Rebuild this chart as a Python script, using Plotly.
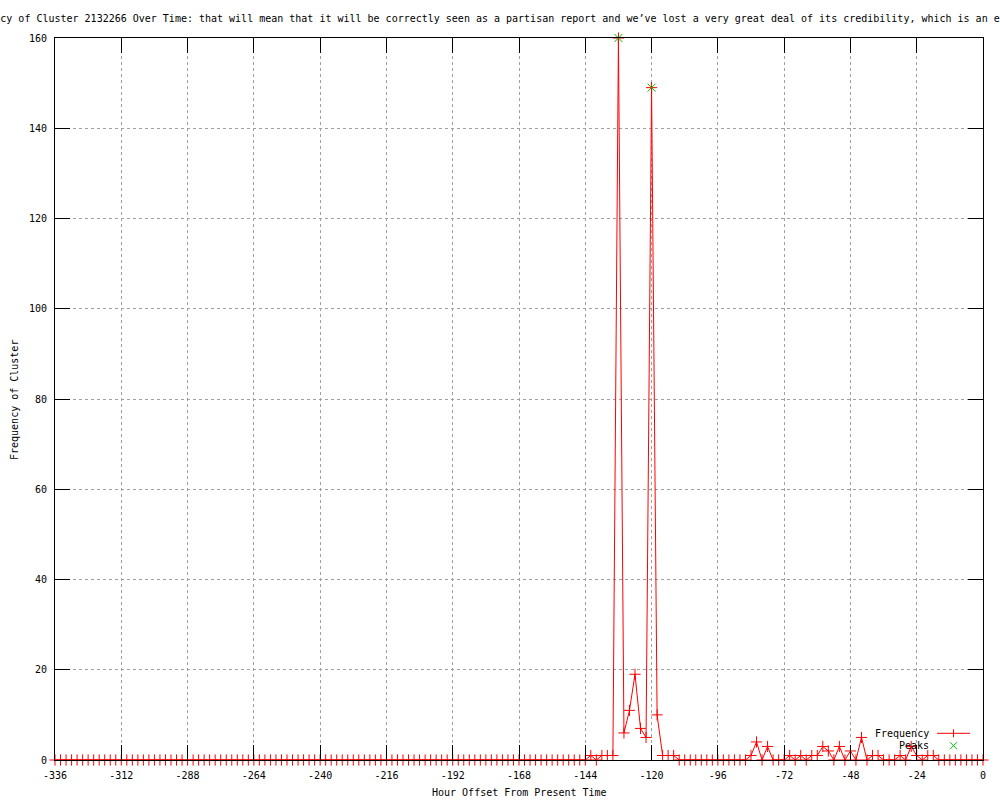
import plotly.graph_objects as go

# ---------------- data ----------------
hours = list(range(-336, 1, 2))  # x categories: one sample every 2 hours
frequency = [
    # -336 .. -290
    0, 0, 0, 0, 0, 0, 0, 0, 0, 0, 0, 0, 0, 0, 0, 0, 0, 0, 0, 0, 0, 0, 0, 0,
    # -288 .. -242
    0, 0, 0, 0, 0, 0, 0, 0, 0, 0, 0, 0, 0, 0, 0, 0, 0, 0, 0, 0, 0, 0, 0, 0,
    # -240 .. -194
    0, 0, 0, 0, 0, 0, 0, 0, 0, 0, 0, 0, 0, 0, 0, 0, 0, 0, 0, 0, 0, 0, 0, 0,
    # -192 .. -146
    0, 0, 0, 0, 0, 0, 0, 0, 0, 0, 0, 0, 0, 0, 0, 0, 0, 0, 0, 0, 0, 0, 0, 0,
    # -144 .. -98
    0, 1, 0, 1, 1, 1, 160, 6, 11, 19, 7, 5, 149, 10, 1, 1, 1, 0, 0, 0, 0, 0, 0, 0,
    # -96 .. -50
    0, 0, 0, 0, 0, 0, 1, 4, 0, 3, 0, 0, 0, 1, 0, 1, 0, 1, 1, 3, 2, 0, 3, 0,
    # -48 .. -2
    2, 0, 5, 0, 1, 1, 0, 0, 0, 1, 0, 3, 1, 0, 1, 1, 0, 0, 0, 0, 0, 0, 0, 0,
    # 0
    0,
]
peak_hours = [-132, -120]
peak_values = [160, 149]

x_tickvals = [-336, -312, -288, -264, -240, -216, -192, -168, -144, -120, -96, -72, -48, -24, 0]
x_ticktext = ["-336", "-312", "-288", "-264", "-240", "-216", "-192", "-168", "-144",
              "-120", "-96", "-72", "-48", "-24", "0"]
y_tickvals = [0, 20, 40, 60, 80, 100, 120, 140, 160]
y_ticktext = ["0", "20", "40", "60", "80", "100", "120", "140", "160"]

title_text = ("Frequency of Cluster 2132266 Over Time: that will mean that it will be correctly "
              "seen as a partisan report and we\u2019ve lost a very great deal of its credibility, "
              "which is an enormous")
x_title = "Hour Offset From Present Time"
y_title = "Frequency of Cluster"
series_names = ["Frequency", "Peaks"]

# ---------------- style ----------------
FONT = "DejaVu Sans Mono"
RED = "#ff0000"
GREEN = "#00c000"
GRID = "#a0a0a0"

fig = go.Figure()
fig.add_trace(go.Scatter(
    x=hours, y=frequency, name=series_names[0], mode="lines+markers",
    line=dict(color=RED, width=1),
    marker=dict(symbol="cross-thin", size=8, color=RED, line=dict(color=RED, width=1)),
    cliponaxis=False, showlegend=False,
))
fig.add_trace(go.Scatter(
    x=peak_hours, y=peak_values, name=series_names[1], mode="markers",
    marker=dict(symbol="x-thin", size=8, color=GREEN, line=dict(color=GREEN, width=1)),
    cliponaxis=False, showlegend=False,
))

axis_common = dict(
    showline=True, linecolor="black", linewidth=1, mirror="ticks",
    ticks="inside", ticklen=15, tickwidth=1, tickcolor="black",
    showgrid=True, gridcolor=GRID, gridwidth=1, griddash="3px,3px",
    zeroline=False, layer="above traces", automargin=False,
    tickfont=dict(family=FONT, size=10, color="black"),
)

fig.update_layout(
    width=1000, height=800,
    margin=dict(l=55, r=17, t=38, b=40),
    paper_bgcolor="white", plot_bgcolor="white",
    font=dict(family=FONT, size=10, color="black"),
    title=dict(text=title_text, x=0.5, xref="container", xanchor="center",
               y=1 - 18 / 800, yref="container", yanchor="middle",
               font=dict(family=FONT, size=10, color="black"), automargin=False),
    xaxis=dict(range=[-336, 0], tickvals=x_tickvals, ticktext=x_ticktext,
               ticklabelstandoff=6, **axis_common),
    yaxis=dict(range=[0, 160], tickvals=y_tickvals, ticktext=y_ticktext,
               ticklabelstandoff=5, **axis_common),
    showlegend=False,
)

# ---------------- helpers: pixel -> paper coordinates ----------------
def px_x(p):
    return (p - 55) / 928.0

def px_y(p):
    return (760 - p) / 722.0

# axis titles (placed like gnuplot's)
fig.add_annotation(text=x_title, xref="paper", yref="paper", x=0.5, y=px_y(793),
                   xanchor="center", yanchor="middle", showarrow=False,
                   font=dict(family=FONT, size=10, color="black"))
fig.add_annotation(text=y_title, xref="paper", yref="paper", x=px_x(14), y=px_y(400),
                   xanchor="center", yanchor="middle", textangle=-90, showarrow=False,
                   font=dict(family=FONT, size=10, color="black"))

# ---------------- gnuplot-style key (text left, sample right) ----------------
key_rows = [(series_names[0], 733.3), (series_names[1], 745.7)]
for name, ypix in key_rows:
    fig.add_annotation(text=name, xref="paper", yref="paper", x=px_x(931), y=px_y(ypix),
                       xanchor="right", yanchor="middle", showarrow=False,
                       font=dict(family=FONT, size=10, color="black"))

# Frequency sample: line with a plus
fy = px_y(733.3)
fig.add_shape(type="line", xref="paper", yref="paper", x0=px_x(937), x1=px_x(970), y0=fy, y1=fy,
              line=dict(color=RED, width=1))
fig.add_shape(type="line", xref="paper", yref="paper", x0=px_x(953.5), x1=px_x(953.5),
              y0=px_y(729.3), y1=px_y(737.3), line=dict(color=RED, width=1))
# Peaks sample: green x
fig.add_shape(type="line", xref="paper", yref="paper", x0=px_x(950), x1=px_x(957),
              y0=px_y(742.2), y1=px_y(749.2), line=dict(color=GREEN, width=1))
fig.add_shape(type="line", xref="paper", yref="paper", x0=px_x(950), x1=px_x(957),
              y0=px_y(749.2), y1=px_y(742.2), line=dict(color=GREEN, width=1))

fig.write_html("out.html", config={"displayModeBar": False},
               post_script="document.body.style.margin='0';document.body.style.overflow='hidden';")
